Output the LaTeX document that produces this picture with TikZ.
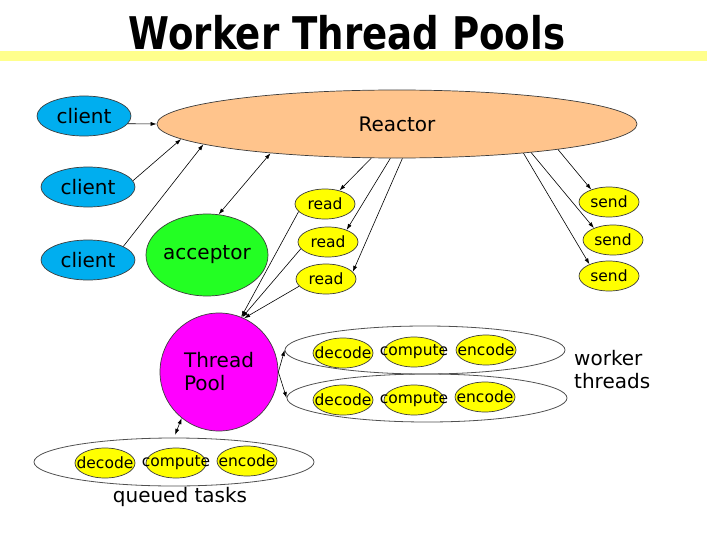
\documentclass[tikz,border=0pt]{standalone}
\usepackage{fontspec}
\setmainfont{DejaVu Sans}
\newfontfamily\titlefont[FakeStretch=0.825]{DejaVu Sans Bold}
\usetikzlibrary{shapes.geometric,arrows.meta}

\definecolor{clientblue}{RGB}{0,174,239}
\definecolor{reactorpeach}{RGB}{255,196,140}
\definecolor{acceptorgreen}{RGB}{35,255,35}
\definecolor{taskyellow}{RGB}{255,255,0}
\definecolor{poolmagenta}{RGB}{255,0,255}
\definecolor{barYellow}{RGB}{255,255,140}
\definecolor{edgegray}{RGB}{60,60,60}

\tikzset{
  blob/.style={ellipse, draw=edgegray, line width=0.7pt, inner sep=0pt},
  bigtext/.style={font=\fontsize{20}{23}\selectfont},
  smalltext/.style={font=\fontsize{15.5}{17}\selectfont},
  clientnode/.style={blob, fill=clientblue, minimum width=94pt, minimum height=40pt,
    label={[bigtext]center:#1}},
  iobox/.style={blob, fill=taskyellow, minimum width=60pt, minimum height=30pt,
    label={[smalltext]center:#1}},
  taskbox/.style={blob, fill=taskyellow, minimum width=60pt, minimum height=30pt,
    label={[smalltext]center:#1}},
  group/.style={ellipse, draw=edgegray!90, line width=0.8pt, inner sep=0pt,
    minimum width=280pt, minimum height=48pt},
  link/.style={line width=0.6pt, -{Latex[length=6pt,width=4pt]}},
  duallink/.style={line width=0.6pt, {Latex[length=6pt,width=4pt]}-{Latex[length=6pt,width=4pt]}},
}

\begin{document}
\begin{tikzpicture}[x=1pt,y=-1pt]
\useasboundingbox (0,0) rectangle (711,559);

% title and its bar
\fill[barYellow] (0,51) rectangle (707,61);
\node[anchor=base, inner sep=0pt, font=\titlefont\fontsize{45}{50}\selectfont] (title) at (347,50) {Worker Thread Pools};

% reactor and its clients
\node[blob, fill=reactorpeach, minimum width=480pt, minimum height=68pt,
      label={[bigtext]center:Reactor}] (reactor) at (397,124) {};
\node[clientnode=client] (c1) at (84,116) {};
\node[clientnode=client] (c2) at (88,187) {};
\node[clientnode=client] (c3) at (88,260) {};
\node[blob, fill=acceptorgreen, minimum width=122pt, minimum height=82pt,
      label={[bigtext]center:acceptor}] (acc) at (207,255) {};

% read and send handlers
\node[iobox=read] (r1) at (325,204) {};
\node[iobox=read] (r2) at (328,242) {};
\node[iobox=read] (r3) at (326,279) {};
\node[iobox=send] (s1) at (609,202) {};
\node[iobox=send] (s2) at (613,240) {};
\node[iobox=send] (s3) at (609,276) {};

% thread pool
\node[circle, draw=edgegray, line width=0.7pt, fill=poolmagenta, minimum size=118pt, inner sep=0pt,
      label={[bigtext, align=left]center:Thread\\Pool}] (tp) at (219,372) {};

% worker threads
\node[group] (w1) at (425,350) {};
\node[group] (w2) at (427,398) {};
\node[taskbox=decode]  (w1d) at (343,353) {};
\node[taskbox=compute] (w1c) at (414,352) {};
\node[taskbox=encode]  (w1e) at (486,350) {};
\node[taskbox=decode]  (w2d) at (343,400) {};
\node[taskbox=compute] (w2c) at (414,400) {};
\node[taskbox=encode]  (w2e) at (485,397) {};
\node[bigtext, align=left, anchor=north west, inner sep=0pt] (wlabel) at (574,350) {worker\\threads};

% queued tasks
\node[group] (q) at (174,462) {};
\node[taskbox=decode]  (qd) at (105,463) {};
\node[taskbox=compute] (qc) at (176,463) {};
\node[taskbox=encode]  (qe) at (247,461) {};
\node[bigtext, inner sep=0pt] (qlabel) at (180,497) {queued tasks};

% connectors
\draw[link] (c1.350) -- (reactor.180);
\draw[link] (c2.8) -- (reactor.184);
\draw[link] (c3.21) -- (reactor.186.5);
\draw[duallink] (acc.74) -- (reactor.193.5);

\draw[link] (reactor.233) -- (r1.43);
\draw[link] (reactor.259) -- (r2.33);
\draw[link] (reactor.279) -- (r3.15);

\draw[link] (reactor.351.3) -- (s1.145);
\draw[link] (reactor.348.5) -- (s2.148);
\draw[link] (reactor.347) -- (s3.149);

\draw[link] (r1.196) -- (tp.68);
\draw[link] (r2.194) -- (tp.67);
\draw[link] (r3.195) -- (tp.65);

\draw[link] (tp.east) -- (w1.west);
\draw[link] (tp.east) -- (w2.west);
\draw[duallink, shorten >=3pt] (tp.231) -- (q.north);

\end{tikzpicture}
\end{document}
